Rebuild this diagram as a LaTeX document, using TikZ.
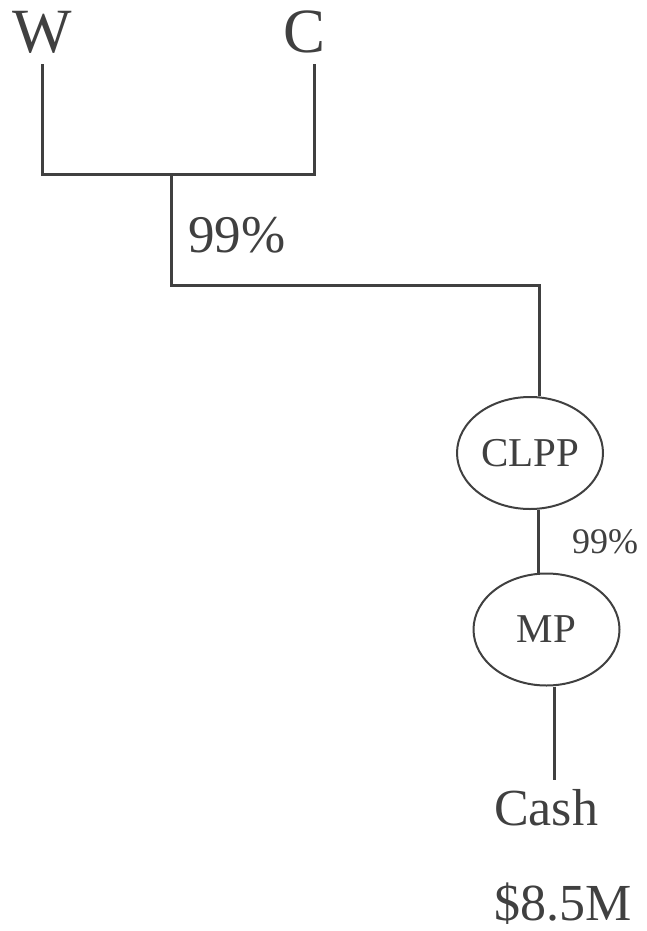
\documentclass[tikz,border=0pt]{standalone}
\usepackage{fontspec}
\setmainfont{Liberation Serif}
\usetikzlibrary{shapes.geometric}
\definecolor{ink}{HTML}{404040}
\tikzset{
  wire/.style={draw=ink, line width=3pt},
  entity/.style={ellipse, draw=ink, line width=2pt, inner sep=0pt,
    minimum width=146pt, minimum height=112pt, text=ink,
    font=\fontsize{41}{41}\selectfont},
  bigtext/.style={text=ink, inner sep=0pt, font=\fontsize{63}{63}\selectfont},
  midtext/.style={text=ink, inner sep=0pt, font=\fontsize{52}{52}\selectfont},
  smalltext/.style={text=ink, inner sep=0pt, font=\fontsize{36}{36}\selectfont}
}
\begin{document}
\begin{tikzpicture}[x=1pt, y=-1pt]
  \useasboundingbox (0,0) rectangle (646,931);

  % owners at the top
  \node[bigtext, anchor=base, inner ysep=10pt] (W) at (42,53) {W};
  \node[bigtext, anchor=base, inner ysep=10pt] (C) at (305,53) {C};

  % partnerships
  \node[entity] (CLPP) at (530,453) {CLPP};
  \node[entity] (MP) at (546.5,629.5) {MP};

  % cash holding
  \node[midtext, anchor=base west] (Cash) at (494,825) {Cash};
  \node[midtext, anchor=base west] (amount) at (494,920) {\$8.5M};

  % routing points of the ownership lines
  \coordinate (j1) at (171,174);
  \coordinate (j2) at (539,285);
  \coordinate (m1) at (538,540);
  \coordinate (c1) at (554,780);

  % W and C joined into one line
  \draw[wire] (W.south -| 42,0) -- (42,174) -- (314,174) -- (C.south -| 314,0);
  \draw[wire] (j1) -- (j1 |- j2) -- (j2) -- (j2 |- CLPP.north);
  \node[bigtext, font=\fontsize{53}{53}\selectfont, anchor=base west] (pctA) at (188,252) {99\%};

  % CLPP to MP
  \draw[wire] (m1 |- CLPP.south) -- (m1 |- MP.north);
  \node[smalltext, anchor=base west] (pctB) at (572,553) {99\%};

  % MP to cash
  \draw[wire] (c1 |- MP.south) -- (c1);
\end{tikzpicture}
\end{document}
